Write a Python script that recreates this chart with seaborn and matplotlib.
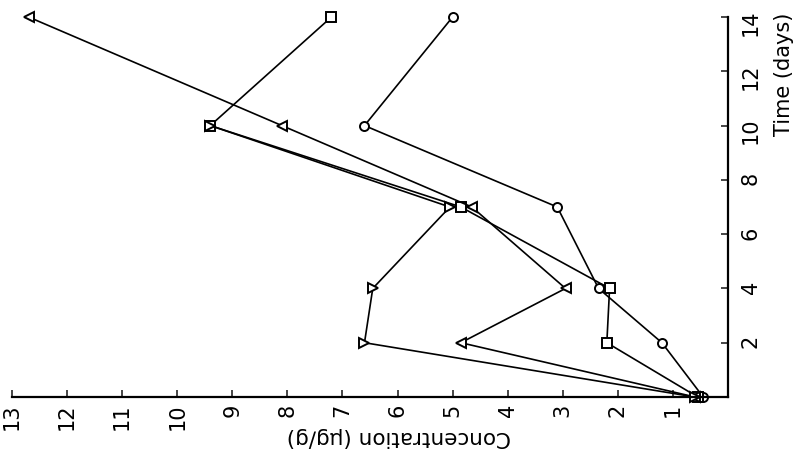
import pandas as pd
import matplotlib
matplotlib.use('Agg')
import matplotlib.pyplot as plt
import seaborn as sns

# days sampled and concentration (ug/g) for each series
days = [0, 2, 4, 7, 10, 14]
days_short = [0, 2, 4, 7, 10]
circle_conc = [0.45, 1.2, 2.35, 3.1, 6.6, 5.0]
square_conc = [0.55, 2.2, 2.15, 4.85, 9.4, 7.2]
tri_left_conc = [0.6, 4.85, 2.95, 4.65, 8.1, 12.7]
tri_right_conc = [0.6, 6.6, 6.45, 5.05, 9.4]

conc_ticks = list(range(1, 14))
day_ticks = list(range(2, 15, 2))

rows = []
for name, d, c in [('circle', days, circle_conc),
                   ('square', days, square_conc),
                   ('tri_left', days, tri_left_conc),
                   ('tri_right', days_short, tri_right_conc)]:
    for i in range(len(d)):
        rows.append({'series': name, 'day': d[i], 'conc': c[i]})
df = pd.DataFrame(rows)

sns.set_style('ticks')
plt.rcParams['font.family'] = ['DejaVu Sans']

fig = plt.figure(figsize=(7.96, 4.55), dpi=100)
ax = fig.add_axes([12 / 796, 58 / 455, 716 / 796, 380 / 455])

# chart is shown rotated: concentration runs right-to-left, time runs upward
sns.lineplot(data=df, x='conc', y='day', style='series',
             markers={'circle': 'o', 'square': 's', 'tri_left': '<', 'tri_right': '>'},
             dashes=False, sort=False, estimator=None, legend=False,
             color='black', linewidth=1.2, markersize=6.5,
             markerfacecolor='white', markeredgecolor='black', markeredgewidth=1.4,
             clip_on=False, ax=ax)

ax.set_xlim(13, 0)
ax.set_ylim(0, 14)
ax.set_xticks(conc_ticks)
ax.set_xticklabels([str(t) for t in conc_ticks])
ax.set_yticks(day_ticks)
ax.set_yticklabels([str(t) for t in day_ticks])

ax.spines['left'].set_visible(False)
ax.spines['top'].set_visible(False)
ax.spines['right'].set_visible(True)
for s in ['bottom', 'right']:
    ax.spines[s].set_linewidth(1.6)
    ax.spines[s].set_color('black')

ax.yaxis.tick_right()
ax.yaxis.set_label_position('right')
ax.tick_params(axis='x', direction='in', length=5, width=1.2, pad=5,
               labelsize=15, labelrotation=90, labelcolor='black')
ax.tick_params(axis='y', direction='in', length=5, width=1.2, pad=9,
               labelsize=15, labelrotation=90, labelcolor='black')

ax.set_xlabel('Concentration (µg/g)', fontsize=15.5, rotation=180, color='black')
ax.xaxis.set_label_coords(0.541, -0.105)
ax.xaxis.label.set_va('center')
ax.set_ylabel('Time (days)', fontsize=15, rotation=90, color='black')
ax.yaxis.set_label_coords(1.078, 0.85)
ax.yaxis.label.set_va('center')
ax.yaxis.label.set_ha('center')

fig.savefig('out.png', dpi=100)
